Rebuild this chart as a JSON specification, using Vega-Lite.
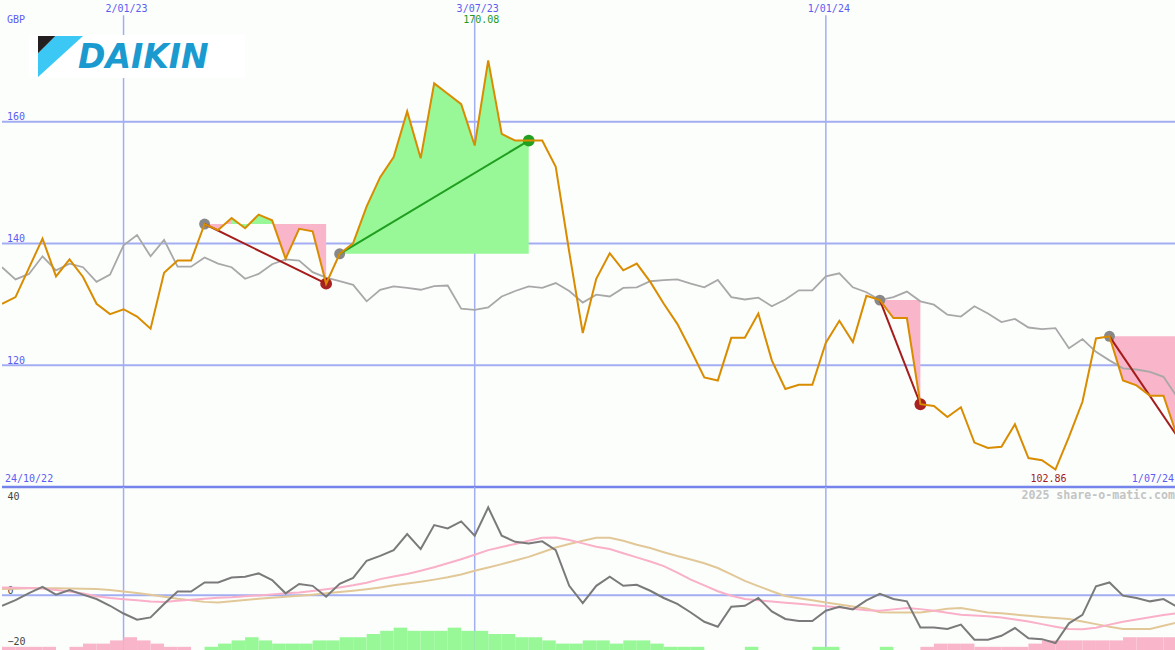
{
  "$schema": "https://vega.github.io/schema/vega-lite/v6.json",
  "background": "#fcfefc",
  "padding": 0,
  "spacing": 0,
  "bounds": "flush",
  "config": {"view": {"stroke": null}, "axis": {"minExtent": 0}, "scale": {"continuousPadding": 0}},
  "datasets": {
    "w": [
      {"d":"2022-10-31","p":130.1,"g":136.1,"m":-4.1,"a":3.0,"b":2.4,"h":1,"s":"neg"},
      {"d":"2022-11-07","p":131.2,"g":134.1,"m":-1.9,"a":2.9,"b":2.5,"h":1,"s":"neg"},
      {"d":"2022-11-14","p":136.0,"g":135.0,"m":0.8,"a":2.8,"b":2.7,"h":1,"s":"neg"},
      {"d":"2022-11-21","p":140.8,"g":137.9,"m":3.2,"a":2.6,"b":2.7,"h":1,"s":"neg"},
      {"d":"2022-11-28","p":134.6,"g":135.6,"m":0.2,"a":2.0,"b":2.7,"h":0,"s":"neg"},
      {"d":"2022-12-05","p":137.4,"g":136.7,"m":2.0,"a":1.4,"b":2.6,"h":1,"s":"neg"},
      {"d":"2022-12-12","p":134.5,"g":136.1,"m":0.2,"a":0.6,"b":2.5,"h":2,"s":"neg"},
      {"d":"2022-12-19","p":130.1,"g":133.7,"m":-1.5,"a":-0.4,"b":2.4,"h":2,"s":"neg"},
      {"d":"2022-12-26","p":128.4,"g":134.9,"m":-4.1,"a":-1.1,"b":2.0,"h":3,"s":"neg"},
      {"d":"2023-01-02","p":129.2,"g":139.7,"m":-7.1,"a":-1.6,"b":1.4,"h":4,"s":"neg"},
      {"d":"2023-01-09","p":128.0,"g":141.4,"m":-9.5,"a":-2.0,"b":0.8,"h":3,"s":"neg"},
      {"d":"2023-01-16","p":126.0,"g":137.9,"m":-8.6,"a":-2.5,"b":0.15,"h":2,"s":"neg"},
      {"d":"2023-01-23","p":135.2,"g":140.6,"m":-3.4,"a":-2.6,"b":-0.6,"h":1,"s":"neg"},
      {"d":"2023-01-30","p":137.2,"g":136.2,"m":1.4,"a":-2.2,"b":-1.4,"h":1,"s":"neg"},
      {"d":"2023-02-06","p":137.2,"g":136.2,"m":1.4,"a":-1.8,"b":-2.0,"h":0,"s":"pos"},
      {"d":"2023-02-13","p":143.2,"g":137.7,"m":4.9,"a":-1.4,"b":-2.6,"h":1,"s":"pos"},
      {"d":"2023-02-20","p":142.2,"g":136.7,"m":4.9,"a":-1.0,"b":-2.8,"h":2,"s":"pos"},
      {"d":"2023-02-27","p":144.2,"g":136.1,"m":6.8,"a":-0.8,"b":-2.4,"h":3,"s":"pos"},
      {"d":"2023-03-06","p":142.5,"g":134.2,"m":7.1,"a":-0.4,"b":-1.9,"h":4,"s":"pos"},
      {"d":"2023-03-13","p":144.75,"g":135.0,"m":8.4,"a":-0.1,"b":-1.4,"h":3,"s":"pos"},
      {"d":"2023-03-20","p":143.8,"g":136.6,"m":5.8,"a":0.3,"b":-1.0,"h":2,"s":"pos"},
      {"d":"2023-03-27","p":137.5,"g":137.4,"m":0.7,"a":0.7,"b":-0.6,"h":2,"s":"pos"},
      {"d":"2023-04-03","p":142.4,"g":137.2,"m":4.3,"a":1.0,"b":-0.2,"h":2,"s":"pos"},
      {"d":"2023-04-10","p":142.0,"g":135.3,"m":3.6,"a":1.6,"b":0.2,"h":3,"s":"pos"},
      {"d":"2023-04-17","p":133.4,"g":134.4,"m":-0.6,"a":2.3,"b":0.7,"h":3,"s":"pos"},
      {"d":"2023-04-24","p":138.3,"g":133.8,"m":4.4,"a":3.0,"b":1.2,"h":4,"s":"pos"},
      {"d":"2023-05-01","p":140.05,"g":133.2,"m":6.7,"a":3.8,"b":1.7,"h":4,"s":"pos"},
      {"d":"2023-05-08","p":146.1,"g":130.5,"m":13.3,"a":4.8,"b":2.3,"h":5,"s":"pos"},
      {"d":"2023-05-15","p":150.9,"g":132.4,"m":15.2,"a":6.2,"b":3.0,"h":6,"s":"pos"},
      {"d":"2023-05-22","p":154.2,"g":132.95,"m":17.4,"a":7.2,"b":3.8,"h":7,"s":"pos"},
      {"d":"2023-05-29","p":161.7,"g":132.7,"m":23.6,"a":8.2,"b":4.5,"h":6,"s":"pos"},
      {"d":"2023-06-05","p":154.0,"g":132.4,"m":17.8,"a":9.4,"b":5.2,"h":6,"s":"pos"},
      {"d":"2023-06-12","p":166.3,"g":133.0,"m":27.1,"a":10.8,"b":6.0,"h":6,"s":"pos"},
      {"d":"2023-06-19","p":164.6,"g":133.1,"m":25.8,"a":12.3,"b":6.9,"h":7,"s":"pos"},
      {"d":"2023-06-26","p":162.9,"g":129.3,"m":28.5,"a":13.9,"b":8.0,"h":6,"s":"pos"},
      {"d":"2023-07-03","p":156.1,"g":129.1,"m":23.0,"a":15.6,"b":9.4,"h":6,"s":"pos"},
      {"d":"2023-07-10","p":170.08,"g":129.5,"m":33.9,"a":17.4,"b":10.7,"h":5,"s":"pos"},
      {"d":"2023-07-17","p":158.0,"g":131.3,"m":23.0,"a":18.6,"b":12.0,"h":5,"s":"pos"},
      {"d":"2023-07-24","p":156.9,"g":132.2,"m":20.6,"a":19.8,"b":13.4,"h":4,"s":"pos"},
      {"d":"2023-07-31","p":156.9,"g":132.95,"m":20.0,"a":21.0,"b":14.8,"h":4,"s":"pos"},
      {"d":"2023-08-07","p":156.9,"g":132.7,"m":20.8,"a":22.2,"b":16.6,"h":3,"s":"pos"},
      {"d":"2023-08-14","p":152.6,"g":133.5,"m":17.4,"a":22.3,"b":18.4,"h":2,"s":"pos"},
      {"d":"2023-08-21","p":138.6,"g":132.2,"m":3.6,"a":21.3,"b":19.8,"h":2,"s":"pos"},
      {"d":"2023-08-28","p":125.3,"g":130.3,"m":-3.1,"a":20.0,"b":21.0,"h":3,"s":"pos"},
      {"d":"2023-09-04","p":134.2,"g":131.6,"m":3.6,"a":18.7,"b":22.2,"h":3,"s":"pos"},
      {"d":"2023-09-11","p":138.4,"g":131.3,"m":7.1,"a":17.8,"b":22.2,"h":2,"s":"pos"},
      {"d":"2023-09-18","p":135.6,"g":132.7,"m":3.6,"a":16.2,"b":21.0,"h":3,"s":"pos"},
      {"d":"2023-09-25","p":136.7,"g":132.8,"m":4.0,"a":14.6,"b":19.5,"h":3,"s":"pos"},
      {"d":"2023-10-02","p":133.7,"g":133.8,"m":1.7,"a":13.0,"b":18.2,"h":2,"s":"pos"},
      {"d":"2023-10-09","p":130.1,"g":134.0,"m":-1.1,"a":11.2,"b":16.6,"h":1,"s":"pos"},
      {"d":"2023-10-16","p":126.8,"g":134.1,"m":-3.4,"a":8.7,"b":15.1,"h":1,"s":"pos"},
      {"d":"2023-10-23","p":122.5,"g":133.4,"m":-6.7,"a":6.0,"b":13.8,"h":1,"s":"pos"},
      {"d":"2023-10-30","p":118.0,"g":132.8,"m":-10.3,"a":3.8,"b":12.3,"h":0,"s":"pos"},
      {"d":"2023-11-06","p":117.5,"g":134.0,"m":-12.2,"a":1.5,"b":10.5,"h":0,"s":"pos"},
      {"d":"2023-11-13","p":124.5,"g":131.2,"m":-4.5,"a":-0.2,"b":8.0,"h":0,"s":"pos"},
      {"d":"2023-11-20","p":124.5,"g":130.8,"m":-4.1,"a":-1.5,"b":5.5,"h":1,"s":"pos"},
      {"d":"2023-11-27","p":128.5,"g":131.1,"m":-1.1,"a":-2.0,"b":3.5,"h":0,"s":"pos"},
      {"d":"2023-12-04","p":120.8,"g":129.7,"m":-6.3,"a":-2.5,"b":1.5,"h":0,"s":"pos"},
      {"d":"2023-12-11","p":116.1,"g":130.8,"m":-9.2,"a":-2.9,"b":-0.3,"h":0,"s":"pos"},
      {"d":"2023-12-18","p":116.8,"g":132.3,"m":-10.0,"a":-3.3,"b":-1.2,"h":0,"s":"pos"},
      {"d":"2023-12-25","p":116.8,"g":132.3,"m":-10.0,"a":-3.8,"b":-2.0,"h":1,"s":"pos"},
      {"d":"2024-01-01","p":123.7,"g":134.6,"m":-6.0,"a":-4.3,"b":-2.8,"h":1,"s":"pos"},
      {"d":"2024-01-08","p":127.3,"g":135.1,"m":-4.5,"a":-4.8,"b":-3.6,"h":0,"s":"pos"},
      {"d":"2024-01-15","p":123.8,"g":132.8,"m":-5.5,"a":-5.3,"b":-4.4,"h":0,"s":"pos"},
      {"d":"2024-01-22","p":131.4,"g":132.0,"m":-2.0,"a":-5.8,"b":-5.2,"h":0,"s":"pos"},
      {"d":"2024-01-29","p":130.7,"g":130.7,"m":0.5,"a":-6.0,"b":-6.6,"h":1,"s":"pos"},
      {"d":"2024-02-05","p":127.75,"g":131.2,"m":-1.5,"a":-5.5,"b":-6.7,"h":0,"s":"neg"},
      {"d":"2024-02-12","p":127.75,"g":132.1,"m":-2.4,"a":-5.0,"b":-6.7,"h":0,"s":"neg"},
      {"d":"2024-02-19","p":113.6,"g":130.5,"m":-12.5,"a":-5.4,"b":-6.7,"h":1,"s":"neg"},
      {"d":"2024-02-26","p":113.3,"g":129.95,"m":-12.5,"a":-6.0,"b":-6.0,"h":2,"s":"neg"},
      {"d":"2024-03-04","p":111.5,"g":128.3,"m":-13.1,"a":-6.8,"b":-5.3,"h":2,"s":"neg"},
      {"d":"2024-03-11","p":113.1,"g":128.0,"m":-11.4,"a":-7.6,"b":-5.0,"h":2,"s":"neg"},
      {"d":"2024-03-18","p":107.3,"g":129.7,"m":-17.2,"a":-7.9,"b":-5.8,"h":1,"s":"neg"},
      {"d":"2024-03-25","p":106.4,"g":128.5,"m":-17.2,"a":-8.2,"b":-6.7,"h":1,"s":"neg"},
      {"d":"2024-04-01","p":106.6,"g":127.1,"m":-15.7,"a":-8.6,"b":-7.0,"h":1,"s":"neg"},
      {"d":"2024-04-08","p":110.3,"g":127.6,"m":-12.7,"a":-9.4,"b":-7.5,"h":1,"s":"neg"},
      {"d":"2024-04-15","p":104.75,"g":126.2,"m":-16.7,"a":-10.2,"b":-8.0,"h":2,"s":"neg"},
      {"d":"2024-04-22","p":104.4,"g":125.95,"m":-17.0,"a":-11.2,"b":-8.4,"h":3,"s":"neg"},
      {"d":"2024-04-29","p":102.86,"g":126.1,"m":-18.5,"a":-12.2,"b":-8.8,"h":3,"s":"neg"},
      {"d":"2024-05-06","p":108.25,"g":122.8,"m":-10.9,"a":-13.1,"b":-9.2,"h":3,"s":"neg"},
      {"d":"2024-05-13","p":114.0,"g":124.3,"m":-7.6,"a":-13.2,"b":-10.2,"h":3,"s":"neg"},
      {"d":"2024-05-20","p":124.4,"g":122.2,"m":3.4,"a":-12.6,"b":-11.2,"h":3,"s":"neg"},
      {"d":"2024-05-27","p":124.75,"g":120.8,"m":4.9,"a":-11.4,"b":-12.2,"h":3,"s":"neg"},
      {"d":"2024-06-03","p":117.5,"g":119.5,"m":-0.2,"a":-10.3,"b":-13.1,"h":4,"s":"neg"},
      {"d":"2024-06-10","p":116.7,"g":119.3,"m":-1.1,"a":-9.4,"b":-13.1,"h":4,"s":"neg"},
      {"d":"2024-06-17","p":115.0,"g":118.9,"m":-2.4,"a":-8.5,"b":-13.1,"h":4,"s":"neg"},
      {"d":"2024-06-24","p":115.0,"g":118.1,"m":-1.5,"a":-7.7,"b":-11.8,"h":4,"s":"neg"},
      {"d":"2024-07-01","p":108.4,"g":114.8,"m":-4.5,"a":-7.0,"b":-10.6,"h":4,"s":"neg"}
    ],
    "fills": [
      {"d":"2023-02-13","p":143.2,"lv":143.2,"grp":"s1p","dir":"down"},
      {"d":"2023-02-20","p":142.2,"lv":143.2,"grp":"s1p","dir":"down"},
      {"d":"2023-02-27","p":144.2,"lv":143.2,"grp":"s1p","dir":"down"},
      {"d":"2023-03-06","p":142.5,"lv":143.2,"grp":"s1p","dir":"down"},
      {"d":"2023-03-13","p":144.75,"lv":143.2,"grp":"s1p","dir":"down"},
      {"d":"2023-03-20","p":143.8,"lv":143.2,"grp":"s1p","dir":"down"},
      {"d":"2023-03-27","p":137.5,"lv":143.2,"grp":"s1p","dir":"down"},
      {"d":"2023-04-03","p":142.4,"lv":143.2,"grp":"s1p","dir":"down"},
      {"d":"2023-04-10","p":142.0,"lv":143.2,"grp":"s1p","dir":"down"},
      {"d":"2023-04-17","p":133.4,"lv":143.2,"grp":"s1p","dir":"down"},
      {"d":"2023-02-27","p":144.2,"lv":143.2,"grp":"s1g","dir":"up"},
      {"d":"2023-03-06","p":142.5,"lv":143.2,"grp":"s1g","dir":"up"},
      {"d":"2023-03-13","p":144.75,"lv":143.2,"grp":"s1g","dir":"up"},
      {"d":"2023-03-20","p":143.8,"lv":143.2,"grp":"s1g","dir":"up"},
      {"d":"2023-04-24","p":138.3,"lv":138.3,"grp":"s2","dir":"up"},
      {"d":"2023-05-01","p":140.05,"lv":138.3,"grp":"s2","dir":"up"},
      {"d":"2023-05-08","p":146.1,"lv":138.3,"grp":"s2","dir":"up"},
      {"d":"2023-05-15","p":150.9,"lv":138.3,"grp":"s2","dir":"up"},
      {"d":"2023-05-22","p":154.2,"lv":138.3,"grp":"s2","dir":"up"},
      {"d":"2023-05-29","p":161.7,"lv":138.3,"grp":"s2","dir":"up"},
      {"d":"2023-06-05","p":154.0,"lv":138.3,"grp":"s2","dir":"up"},
      {"d":"2023-06-12","p":166.3,"lv":138.3,"grp":"s2","dir":"up"},
      {"d":"2023-06-19","p":164.6,"lv":138.3,"grp":"s2","dir":"up"},
      {"d":"2023-06-26","p":162.9,"lv":138.3,"grp":"s2","dir":"up"},
      {"d":"2023-07-03","p":156.1,"lv":138.3,"grp":"s2","dir":"up"},
      {"d":"2023-07-10","p":170.08,"lv":138.3,"grp":"s2","dir":"up"},
      {"d":"2023-07-17","p":158.0,"lv":138.3,"grp":"s2","dir":"up"},
      {"d":"2023-07-24","p":156.9,"lv":138.3,"grp":"s2","dir":"up"},
      {"d":"2023-07-31","p":156.9,"lv":138.3,"grp":"s2","dir":"up"},
      {"d":"2024-01-29","p":130.7,"lv":130.7,"grp":"s3","dir":"down"},
      {"d":"2024-02-05","p":127.75,"lv":130.7,"grp":"s3","dir":"down"},
      {"d":"2024-02-12","p":127.75,"lv":130.7,"grp":"s3","dir":"down"},
      {"d":"2024-02-19","p":113.6,"lv":130.7,"grp":"s3","dir":"down"},
      {"d":"2024-05-27","p":124.75,"lv":124.75,"grp":"s4","dir":"down"},
      {"d":"2024-06-03","p":117.5,"lv":124.75,"grp":"s4","dir":"down"},
      {"d":"2024-06-10","p":116.7,"lv":124.75,"grp":"s4","dir":"down"},
      {"d":"2024-06-17","p":115.0,"lv":124.75,"grp":"s4","dir":"down"},
      {"d":"2024-06-24","p":115.0,"lv":124.75,"grp":"s4","dir":"down"},
      {"d":"2024-07-01","p":108.4,"lv":124.75,"grp":"s4","dir":"down"}
    ],
    "trend": [
      {"d":"2023-02-13","p":143.2,"seg":"t1","dir":"down"},
      {"d":"2023-04-17","p":133.4,"seg":"t1","dir":"down"},
      {"d":"2023-04-24","p":138.3,"seg":"t2","dir":"up"},
      {"d":"2023-07-31","p":156.9,"seg":"t2","dir":"up"},
      {"d":"2024-01-29","p":130.7,"seg":"t3","dir":"down"},
      {"d":"2024-02-19","p":113.6,"seg":"t3","dir":"down"},
      {"d":"2024-05-27","p":124.75,"seg":"t4","dir":"down"},
      {"d":"2024-07-01","p":108.4,"seg":"t4","dir":"down"}
    ],
    "dots": [
      {"d":"2023-02-13","p":143.2,"k":"start"},
      {"d":"2023-04-24","p":138.3,"k":"start"},
      {"d":"2024-01-29","p":130.7,"k":"start"},
      {"d":"2024-05-27","p":124.75,"k":"start"},
      {"d":"2023-04-17","p":133.4,"k":"low"},
      {"d":"2024-02-19","p":113.6,"k":"low"},
      {"d":"2023-07-31","p":156.9,"k":"high"}
    ],
    "vlines": [{"d":"2023-01-02"},{"d":"2023-07-03"},{"d":"2024-01-01"}],
    "hlines": [{"v":120},{"v":140},{"v":160}]
  },
  "vconcat": [
    {
      "width": 1175,
      "height": 487,
      "layer": [
        {
          "data": {"name": "hlines"},
          "mark": {"type": "rule", "color": "#a3aef2", "strokeWidth": 2},
          "encoding": {
            "y": {"field": "v", "type": "quantitative", "scale": {"domain":[100,180],"nice":false,"zero":false}, "axis": null}
          }
        },
        {
          "data": {"name": "hlines"},
          "mark": {"type": "text", "align": "left", "baseline": "alphabetic", "dx": 5, "dy": -1.5, "font": "DejaVu Sans Mono", "fontSize": 10, "color": "#5c5cf2"},
          "encoding": {
            "x": {"datum": {"year":2022,"month":10,"date":31,"utc":true}, "type": "temporal", "scale": {"type":"utc","domain":[{"year":2022,"month":10,"date":31,"utc":true},{"year":2024,"month":7,"date":1,"utc":true}],"nice":false}, "axis": null},
            "y": {"field": "v", "type": "quantitative", "scale": {"domain":[100,180],"nice":false,"zero":false}, "axis": null},
            "text": {"field": "v", "type": "quantitative"}
          }
        },
        {
          "data": {"name": "vlines"},
          "mark": {"type": "rule", "color": "#a3aef2", "strokeWidth": 1.5},
          "encoding": {
            "x": {"field": "d", "type": "temporal", "scale": {"type":"utc","domain":[{"year":2022,"month":10,"date":31,"utc":true},{"year":2024,"month":7,"date":1,"utc":true}],"nice":false}, "axis": null},
            "y": {"datum": 177.5, "type": "quantitative", "scale": {"domain":[100,180],"nice":false,"zero":false}, "axis": null},
            "y2": {"datum": 100}
          }
        },
        {
          "data": {"name": "vlines"},
          "mark": {"type": "text", "align": "center", "baseline": "middle", "dx": 3, "font": "DejaVu Sans Mono", "fontSize": 10, "color": "#5c5cf2"},
          "encoding": {
            "x": {"field": "d", "type": "temporal", "scale": {"type":"utc","domain":[{"year":2022,"month":10,"date":31,"utc":true},{"year":2024,"month":7,"date":1,"utc":true}],"nice":false}, "axis": null},
            "y": {"datum": 178.52, "type": "quantitative", "scale": {"domain":[100,180],"nice":false,"zero":false}, "axis": null},
            "text": {"field": "d", "type": "temporal", "timeUnit": "utcyearmonthdate", "format": "%-d/%m/%y"}
          }
        },
        {
          "data": {"values": [{}]},
          "mark": {"type": "rect", "color": "#ffffff"},
          "encoding": {
            "x": {"datum": {"year":2022,"month":11,"date":14,"utc":true}, "type": "temporal", "scale": {"type":"utc","domain":[{"year":2022,"month":10,"date":31,"utc":true},{"year":2024,"month":7,"date":1,"utc":true}],"nice":false}, "axis": null},
            "x2": {"datum": {"year":2023,"month":3,"date":6,"utc":true}},
            "y": {"datum": 174.25, "type": "quantitative", "scale": {"domain":[100,180],"nice":false,"zero":false}, "axis": null},
            "y2": {"datum": 167.2}
          }
        },
        {
          "data": {"values": [{}]},
          "mark": {"type": "point", "shape": "M-0.231,-0.911L1,-0.911L-1,0.911L-1,-0.142Z", "size": 2025, "filled": true, "color": "#3cc8f4", "opacity": 1, "strokeWidth": 0},
          "encoding": {
            "x": {"datum": {"year":2022,"month":11,"date":30,"hours":8,"utc":true}, "type": "temporal", "scale": {"type":"utc","domain":[{"year":2022,"month":10,"date":31,"utc":true},{"year":2024,"month":7,"date":1,"utc":true}],"nice":false}, "axis": null},
            "y": {"datum": 170.72, "type": "quantitative", "scale": {"domain":[100,180],"nice":false,"zero":false}, "axis": null}
          }
        },
        {
          "data": {"values": [{}]},
          "mark": {"type": "point", "shape": "M-1,-0.911L-0.231,-0.911L-1,-0.142Z", "size": 2025, "filled": true, "color": "#231f20", "opacity": 1, "strokeWidth": 0},
          "encoding": {
            "x": {"datum": {"year":2022,"month":11,"date":30,"hours":8,"utc":true}, "type": "temporal", "scale": {"type":"utc","domain":[{"year":2022,"month":10,"date":31,"utc":true},{"year":2024,"month":7,"date":1,"utc":true}],"nice":false}, "axis": null},
            "y": {"datum": 170.72, "type": "quantitative", "scale": {"domain":[100,180],"nice":false,"zero":false}, "axis": null}
          }
        },
        {
          "data": {"values": [{}]},
          "mark": {"type": "text", "align": "left", "baseline": "alphabetic", "font": "DejaVu Sans", "fontWeight": "bold", "fontStyle": "italic", "fontSize": 33, "color": "#1b9ad0"},
          "encoding": {
            "x": {"datum": {"year":2022,"month":12,"date":9,"hours":10,"utc":true}, "type": "temporal", "scale": {"type":"utc","domain":[{"year":2022,"month":10,"date":31,"utc":true},{"year":2024,"month":7,"date":1,"utc":true}],"nice":false}, "axis": null},
            "y": {"datum": 168.9, "type": "quantitative", "scale": {"domain":[100,180],"nice":false,"zero":false}, "axis": null},
            "text": {"value": "DAIKIN"}
          }
        },
        {
          "data": {"name": "fills"},
          "transform": [{"filter": "datum.dir == 'down'"}],
          "mark": {"type": "area", "color": "#f9b5ca", "opacity": 1, "clip": true},
          "encoding": {
            "x": {"field": "d", "type": "temporal", "scale": {"type":"utc","domain":[{"year":2022,"month":10,"date":31,"utc":true},{"year":2024,"month":7,"date":1,"utc":true}],"nice":false}, "axis": null},
            "y": {"field": "p", "type": "quantitative", "stack": null, "scale": {"domain":[100,180],"nice":false,"zero":false}, "axis": null},
            "y2": {"field": "lv"},
            "detail": {"field": "grp"}
          }
        },
        {
          "data": {"name": "fills"},
          "transform": [{"filter": "datum.dir == 'up'"}],
          "mark": {"type": "area", "color": "#98f898", "opacity": 1, "clip": true},
          "encoding": {
            "x": {"field": "d", "type": "temporal", "scale": {"type":"utc","domain":[{"year":2022,"month":10,"date":31,"utc":true},{"year":2024,"month":7,"date":1,"utc":true}],"nice":false}, "axis": null},
            "y": {"field": "p", "type": "quantitative", "stack": null, "scale": {"domain":[100,180],"nice":false,"zero":false}, "axis": null},
            "y2": {"field": "lv"},
            "detail": {"field": "grp"}
          }
        },
        {
          "data": {"name": "w"},
          "mark": {"type": "line", "color": "#a8a8a8", "strokeWidth": 1.8, "clip": true},
          "encoding": {
            "x": {"field": "d", "type": "temporal", "scale": {"type":"utc","domain":[{"year":2022,"month":10,"date":31,"utc":true},{"year":2024,"month":7,"date":1,"utc":true}],"nice":false}, "axis": null},
            "y": {"field": "g", "type": "quantitative", "scale": {"domain":[100,180],"nice":false,"zero":false}, "axis": null}
          }
        },
        {
          "data": {"name": "dots"},
          "transform": [{"filter": "datum.k == 'start'"}],
          "mark": {"type": "circle", "size": 120, "color": "#888888", "opacity": 1},
          "encoding": {
            "x": {"field": "d", "type": "temporal", "scale": {"type":"utc","domain":[{"year":2022,"month":10,"date":31,"utc":true},{"year":2024,"month":7,"date":1,"utc":true}],"nice":false}, "axis": null},
            "y": {"field": "p", "type": "quantitative", "scale": {"domain":[100,180],"nice":false,"zero":false}, "axis": null}
          }
        },
        {
          "data": {"name": "dots"},
          "transform": [{"filter": "datum.k == 'low'"}],
          "mark": {"type": "circle", "size": 140, "color": "#a82222", "opacity": 1},
          "encoding": {
            "x": {"field": "d", "type": "temporal", "scale": {"type":"utc","domain":[{"year":2022,"month":10,"date":31,"utc":true},{"year":2024,"month":7,"date":1,"utc":true}],"nice":false}, "axis": null},
            "y": {"field": "p", "type": "quantitative", "scale": {"domain":[100,180],"nice":false,"zero":false}, "axis": null}
          }
        },
        {
          "data": {"name": "dots"},
          "transform": [{"filter": "datum.k == 'high'"}],
          "mark": {"type": "circle", "size": 140, "color": "#22a022", "opacity": 1},
          "encoding": {
            "x": {"field": "d", "type": "temporal", "scale": {"type":"utc","domain":[{"year":2022,"month":10,"date":31,"utc":true},{"year":2024,"month":7,"date":1,"utc":true}],"nice":false}, "axis": null},
            "y": {"field": "p", "type": "quantitative", "scale": {"domain":[100,180],"nice":false,"zero":false}, "axis": null}
          }
        },
        {
          "data": {"name": "trend"},
          "transform": [{"filter": "datum.dir == 'down'"}],
          "mark": {"type": "line", "color": "#a51c1c", "strokeWidth": 2, "clip": true},
          "encoding": {
            "x": {"field": "d", "type": "temporal", "scale": {"type":"utc","domain":[{"year":2022,"month":10,"date":31,"utc":true},{"year":2024,"month":7,"date":1,"utc":true}],"nice":false}, "axis": null},
            "y": {"field": "p", "type": "quantitative", "scale": {"domain":[100,180],"nice":false,"zero":false}, "axis": null},
            "detail": {"field": "seg"}
          }
        },
        {
          "data": {"name": "trend"},
          "transform": [{"filter": "datum.dir == 'up'"}],
          "mark": {"type": "line", "color": "#1f9e1f", "strokeWidth": 2, "clip": true},
          "encoding": {
            "x": {"field": "d", "type": "temporal", "scale": {"type":"utc","domain":[{"year":2022,"month":10,"date":31,"utc":true},{"year":2024,"month":7,"date":1,"utc":true}],"nice":false}, "axis": null},
            "y": {"field": "p", "type": "quantitative", "scale": {"domain":[100,180],"nice":false,"zero":false}, "axis": null},
            "detail": {"field": "seg"}
          }
        },
        {
          "data": {"name": "w"},
          "mark": {"type": "line", "color": "#d98c00", "strokeWidth": 2, "clip": true},
          "encoding": {
            "x": {"field": "d", "type": "temporal", "scale": {"type":"utc","domain":[{"year":2022,"month":10,"date":31,"utc":true},{"year":2024,"month":7,"date":1,"utc":true}],"nice":false}, "axis": null},
            "y": {"field": "p", "type": "quantitative", "scale": {"domain":[100,180],"nice":false,"zero":false}, "axis": null}
          }
        },
        {
          "data": {"values": [{}]},
          "mark": {"type": "rule", "color": "#7484ea", "strokeWidth": 2.5},
          "encoding": {
            "y": {"datum": 100, "type": "quantitative", "scale": {"domain":[100,180],"nice":false,"zero":false}, "axis": null}
          }
        },
        {
          "data": {"values": [{}]},
          "mark": {"type": "text", "align": "left", "baseline": "middle", "dx": 5, "font": "DejaVu Sans Mono", "fontSize": 10, "color": "#5c5cf2"},
          "encoding": {
            "x": {"datum": {"year":2022,"month":10,"date":31,"utc":true}, "type": "temporal", "scale": {"type":"utc","domain":[{"year":2022,"month":10,"date":31,"utc":true},{"year":2024,"month":7,"date":1,"utc":true}],"nice":false}, "axis": null},
            "y": {"datum": 176.7, "type": "quantitative", "scale": {"domain":[100,180],"nice":false,"zero":false}, "axis": null},
            "text": {"value": "GBP"}
          }
        },
        {
          "data": {"values": [{}]},
          "mark": {"type": "text", "align": "center", "baseline": "middle", "dx": -7, "font": "DejaVu Sans Mono", "fontSize": 10, "color": "#1e9a1e"},
          "encoding": {
            "x": {"datum": {"year":2023,"month":7,"date":10,"utc":true}, "type": "temporal", "scale": {"type":"utc","domain":[{"year":2022,"month":10,"date":31,"utc":true},{"year":2024,"month":7,"date":1,"utc":true}],"nice":false}, "axis": null},
            "y": {"datum": 176.7, "type": "quantitative", "scale": {"domain":[100,180],"nice":false,"zero":false}, "axis": null},
            "text": {"value": "170.08"}
          }
        },
        {
          "data": {"values": [{}]},
          "mark": {"type": "text", "align": "left", "baseline": "middle", "dx": 3, "font": "DejaVu Sans Mono", "fontSize": 10, "color": "#5c5cf2"},
          "encoding": {
            "x": {"datum": {"year":2022,"month":10,"date":31,"utc":true}, "type": "temporal", "scale": {"type":"utc","domain":[{"year":2022,"month":10,"date":31,"utc":true},{"year":2024,"month":7,"date":1,"utc":true}],"nice":false}, "axis": null},
            "y": {"datum": 101.3, "type": "quantitative", "scale": {"domain":[100,180],"nice":false,"zero":false}, "axis": null},
            "text": {"value": "24/10/22"}
          }
        },
        {
          "data": {"values": [{}]},
          "mark": {"type": "text", "align": "right", "baseline": "middle", "dx": -3, "font": "DejaVu Sans Mono", "fontSize": 10, "color": "#5c5cf2"},
          "encoding": {
            "x": {"datum": {"year":2024,"month":7,"date":1,"utc":true}, "type": "temporal", "scale": {"type":"utc","domain":[{"year":2022,"month":10,"date":31,"utc":true},{"year":2024,"month":7,"date":1,"utc":true}],"nice":false}, "axis": null},
            "y": {"datum": 101.3, "type": "quantitative", "scale": {"domain":[100,180],"nice":false,"zero":false}, "axis": null},
            "text": {"value": "1/07/24"}
          }
        },
        {
          "data": {"values": [{}]},
          "mark": {"type": "text", "align": "center", "baseline": "middle", "dx": -7, "font": "DejaVu Sans Mono", "fontSize": 10, "color": "#a01c1c"},
          "encoding": {
            "x": {"datum": {"year":2024,"month":4,"date":29,"utc":true}, "type": "temporal", "scale": {"type":"utc","domain":[{"year":2022,"month":10,"date":31,"utc":true},{"year":2024,"month":7,"date":1,"utc":true}],"nice":false}, "axis": null},
            "y": {"datum": 101.3, "type": "quantitative", "scale": {"domain":[100,180],"nice":false,"zero":false}, "axis": null},
            "text": {"value": "102.86"}
          }
        }
      ]
    },
    {
      "width": 1175,
      "height": 163,
      "resolve": {"scale": {"y": "independent"}},
      "layer": [
        {
          "data": {"name": "vlines"},
          "mark": {"type": "rule", "color": "#a3aef2", "strokeWidth": 1.5},
          "encoding": {
            "x": {"field": "d", "type": "temporal", "scale": {"type":"utc","domain":[{"year":2022,"month":10,"date":31,"utc":true},{"year":2024,"month":7,"date":1,"utc":true}],"nice":false,"padding":0}, "axis": null}
          }
        },
        {
          "data": {"values": [{}]},
          "mark": {"type": "rule", "color": "#a3aef2", "strokeWidth": 2},
          "encoding": {
            "y": {"datum": 0, "type": "quantitative", "scale": {"domain":[-21.2,41.8],"nice":false,"zero":false}, "axis": null}
          }
        },
        {
          "data": {"name": "w"},
          "transform": [{"filter": "datum.s == 'neg'"}],
          "mark": {"type": "bar", "width": 13.5, "xOffset": 6.75, "color": "#f9b5ca", "clip": true},
          "encoding": {
            "x": {"field": "d", "type": "temporal", "scale": {"type":"utc","domain":[{"year":2022,"month":10,"date":31,"utc":true},{"year":2024,"month":7,"date":1,"utc":true}],"nice":false,"padding":0}, "axis": null},
            "y": {"field": "h", "type": "quantitative", "scale": {"domain":[0,51],"nice":false}, "axis": null}
          }
        },
        {
          "data": {"name": "w"},
          "transform": [{"filter": "datum.s == 'pos'"}],
          "mark": {"type": "bar", "width": 13.5, "xOffset": 6.75, "color": "#98f898", "clip": true},
          "encoding": {
            "x": {"field": "d", "type": "temporal", "scale": {"type":"utc","domain":[{"year":2022,"month":10,"date":31,"utc":true},{"year":2024,"month":7,"date":1,"utc":true}],"nice":false,"padding":0}, "axis": null},
            "y": {"field": "h", "type": "quantitative", "scale": {"domain":[0,51],"nice":false}, "axis": null}
          }
        },
        {
          "data": {"name": "w"},
          "mark": {"type": "line", "color": "#e2c898", "strokeWidth": 2, "clip": true},
          "encoding": {
            "x": {"field": "d", "type": "temporal", "scale": {"type":"utc","domain":[{"year":2022,"month":10,"date":31,"utc":true},{"year":2024,"month":7,"date":1,"utc":true}],"nice":false,"padding":0}, "axis": null},
            "y": {"field": "b", "type": "quantitative", "scale": {"domain":[-21.2,41.8],"nice":false,"zero":false}, "axis": null}
          }
        },
        {
          "data": {"name": "w"},
          "mark": {"type": "line", "color": "#f9b0c8", "strokeWidth": 2, "clip": true},
          "encoding": {
            "x": {"field": "d", "type": "temporal", "scale": {"type":"utc","domain":[{"year":2022,"month":10,"date":31,"utc":true},{"year":2024,"month":7,"date":1,"utc":true}],"nice":false,"padding":0}, "axis": null},
            "y": {"field": "a", "type": "quantitative", "scale": {"domain":[-21.2,41.8],"nice":false,"zero":false}, "axis": null}
          }
        },
        {
          "data": {"name": "w"},
          "mark": {"type": "line", "color": "#7a7a7a", "strokeWidth": 2, "clip": true},
          "encoding": {
            "x": {"field": "d", "type": "temporal", "scale": {"type":"utc","domain":[{"year":2022,"month":10,"date":31,"utc":true},{"year":2024,"month":7,"date":1,"utc":true}],"nice":false,"padding":0}, "axis": null},
            "y": {"field": "m", "type": "quantitative", "scale": {"domain":[-21.2,41.8],"nice":false,"zero":false},
              "axis": {"values": [-20, 0, 40], "grid": false, "domain": false, "ticks": false, "tickSize": 0,
                "labelAlign": "left", "labelPadding": -5,
                "labelBaseline": {"condition": {"test": "datum.value == 40", "value": "top"}, "value": "alphabetic"},
                "labelOffset": {"condition": {"test": "datum.value == 40", "value": 0}, "value": -2},
                "labelColor": "#444444", "labelFont": "DejaVu Sans Mono", "labelFontSize": 10, "title": null}}
          }
        },
        {
          "data": {"values": [{}]},
          "mark": {"type": "text", "align": "right", "baseline": "middle", "dx": -2, "font": "DejaVu Sans Mono", "fontWeight": "bold", "fontSize": 11.6, "color": "#c4c4c4"},
          "encoding": {
            "x": {"datum": {"year":2024,"month":7,"date":1,"utc":true}, "type": "temporal", "scale": {"type":"utc","domain":[{"year":2022,"month":10,"date":31,"utc":true},{"year":2024,"month":7,"date":1,"utc":true}],"nice":false,"padding":0}, "axis": null},
            "y": {"datum": 38.4, "type": "quantitative", "scale": {"domain":[-21.2,41.8],"nice":false,"zero":false}, "axis": null},
            "text": {"value": "2025 share-o-matic.com"}
          }
        }
      ]
    }
  ]
}
